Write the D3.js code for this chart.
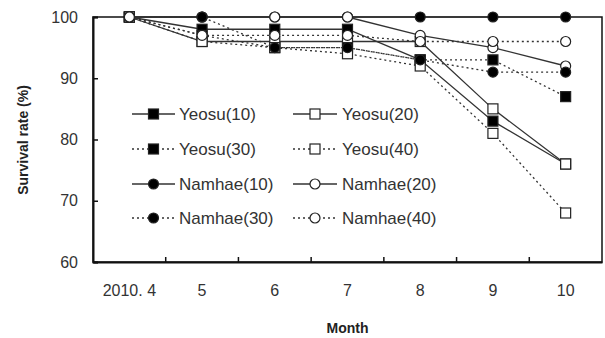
<!DOCTYPE html>
<html>
<head>
<meta charset="utf-8">
<title>Survival rate</title>
<script src="https://cdn.jsdelivr.net/npm/d3@7"></script>
<style>
  body { margin: 0; background: #fff; }
  svg { display: block; }
</style>
</head>
<body>
<script>
// data
var months = ["2010. 4", "5", "6", "7", "8", "9", "10"];
var seriesNames = ["Yeosu(10)", "Yeosu(20)", "Yeosu(30)", "Yeosu(40)",
                   "Namhae(10)", "Namhae(20)", "Namhae(30)", "Namhae(40)"];
var yeosu10  = [100, 98, 98, 98, 93, 83, 76];
var yeosu20  = [100, 96, 96, 96, 96, 85, 76];
var yeosu30  = [100, 97, 95, 95, 93, 93, 87];
var yeosu40  = [100, 96, 95, 94, 92, 81, 68];
var namhae10 = [100, 100, 100, 100, 100, 100, 100];
var namhae20 = [100, 100, 100, 100, 97, 95, 92];
var namhae30 = [100, 100, 95, 95, 93, 91, 91];
var namhae40 = [100, 97, 97, 97, 96, 96, 96];
var yTicks = [60, 70, 80, 90, 100];

var values = [yeosu10, yeosu20, yeosu30, yeosu40, namhae10, namhae20, namhae30, namhae40];
// marker shape, filled, dotted line
var styles = [
  {shape: "square", fill: true,  dotted: false},
  {shape: "square", fill: false, dotted: false},
  {shape: "square", fill: true,  dotted: true},
  {shape: "square", fill: false, dotted: true},
  {shape: "circle", fill: true,  dotted: false},
  {shape: "circle", fill: false, dotted: false},
  {shape: "circle", fill: true,  dotted: true},
  {shape: "circle", fill: false, dotted: true}
];

var w = 605, h = 338;
var mLeft = 93, mRight = 602, mTop = 17, mBottom = 262;

var svg = d3.select("body").append("svg").attr("width", w).attr("height", h);

var x = d3.scaleBand().domain(months).range([mLeft, mRight]);
var y = d3.scaleLinear().domain([60, 100]).range([mBottom, mTop]);
function cx(i) { return x(months[i]) + x.bandwidth() / 2; }

// frame
svg.append("rect").attr("x", mLeft).attr("y", mTop)
   .attr("width", mRight - mLeft).attr("height", mBottom - mTop)
   .attr("fill", "none").attr("stroke", "#111").attr("stroke-width", 1.5);

// y axis (ticks inward)
var yAxis = svg.append("g").attr("transform", "translate(" + mLeft + ",0)")
   .call(d3.axisLeft(y).tickValues(yTicks).tickSize(-5).tickPadding(15));
yAxis.select(".domain").attr("stroke", "#111").attr("stroke-width", 2);
yAxis.selectAll(".tick line").attr("stroke", "#111").attr("stroke-width", 1.5);
yAxis.selectAll("text").style("font-family", "Liberation Sans, Arial, sans-serif")
     .style("font-size", "16px").attr("fill", "#333");

// x axis: labels at centres, ticks at band edges
var xAxis = svg.append("g").attr("transform", "translate(0," + mBottom + ")")
   .call(d3.axisBottom(x).tickSize(0).tickPadding(23));
xAxis.select(".domain").attr("stroke", "#111").attr("stroke-width", 2);
xAxis.selectAll("text").style("font-family", "Liberation Sans, Arial, sans-serif")
     .style("font-size", "16px").attr("fill", "#333");
svg.append("g").selectAll("line")
   .data(months.slice(1))
   .enter().append("line")
   .attr("x1", function(d) { return x(d); }).attr("x2", function(d) { return x(d); })
   .attr("y1", mBottom).attr("y2", mBottom - 5)
   .attr("stroke", "#111").attr("stroke-width", 1.5);

// axis titles
svg.append("text").attr("x", (mLeft + mRight) / 2).attr("y", 333)
   .attr("text-anchor", "middle")
   .style("font-family", "Liberation Sans, Arial, sans-serif")
   .style("font-size", "14px").style("font-weight", "bold").attr("fill", "#222")
   .text("Month");
svg.append("text").attr("transform", "translate(28,140) rotate(-90)")
   .attr("text-anchor", "middle")
   .style("font-family", "Liberation Sans, Arial, sans-serif")
   .style("font-size", "14px").style("font-weight", "bold").attr("fill", "#222")
   .text("Survival rate (%)");

function drawMarker(g, st, px, py) {
  if (st.shape == "square") {
    g.append("rect").attr("x", px - 5).attr("y", py - 5).attr("width", 10).attr("height", 10)
     .attr("fill", st.fill ? "#000" : "#fff").attr("stroke", "#222").attr("stroke-width", 1.2);
  } else {
    g.append("circle").attr("cx", px).attr("cy", py).attr("r", 5)
     .attr("fill", st.fill ? "#000" : "#fff").attr("stroke", "#222").attr("stroke-width", 1.2);
  }
}

var line = d3.line().x(function(d, i) { return cx(i); }).y(function(d) { return y(d); });

values.forEach(function(vals, k) {
  var st = styles[k];
  var g = svg.append("g");
  g.append("path").attr("d", line(vals)).attr("fill", "none")
   .attr("stroke", "#333").attr("stroke-width", 1.3)
   .attr("stroke-dasharray", st.dotted ? "2,3" : null);
  vals.forEach(function(v, i) { drawMarker(g, st, cx(i), y(v)); });
});

// legend
var legCols = [{x1: 132, x2: 175, tx: 179}, {x1: 293, x2: 337, tx: 342}];
var legRows = [114, 149, 184, 218];
seriesNames.forEach(function(name, k) {
  var c = legCols[k % 2], r = legRows[Math.floor(k / 2)], st = styles[k];
  var g = svg.append("g");
  g.append("line").attr("x1", c.x1).attr("x2", c.x2).attr("y1", r).attr("y2", r)
   .attr("stroke", "#333").attr("stroke-width", 1.3)
   .attr("stroke-dasharray", st.dotted ? "2,3" : null);
  drawMarker(g, st, (c.x1 + c.x2) / 2, r);
  g.append("text").attr("x", c.tx).attr("y", r + 6)
   .style("font-family", "Liberation Sans, Arial, sans-serif")
   .style("font-size", "17px").attr("fill", "#333")
   .text(name);
});
</script>
</body>
</html>
